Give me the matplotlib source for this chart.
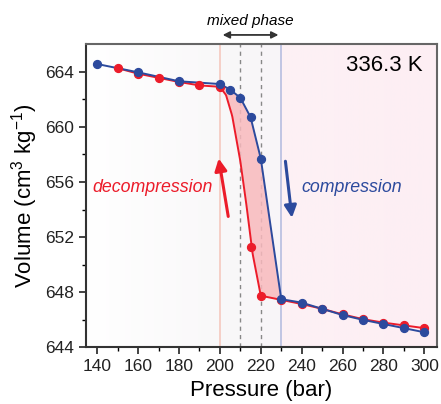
import numpy as np
import matplotlib.pyplot as plt
from matplotlib.colors import LinearSegmentedColormap

plt.rcParams['font.family'] = ['Liberation Sans', 'DejaVu Sans']
plt.rcParams['mathtext.fontset'] = 'custom'
plt.rcParams['mathtext.rm'] = 'Liberation Sans'
plt.rcParams['mathtext.it'] = 'Liberation Sans:italic'

# compression (blue)
p_comp = [140, 160, 180, 200, 205, 210, 215, 220, 230, 240, 250, 260, 270, 280, 290, 300]
v_comp = [664.55, 663.95, 663.3, 663.1, 662.7, 662.1, 660.7, 657.7, 647.5, 647.25,
          646.8, 646.35, 646.0, 645.7, 645.4, 645.1]

# decompression (red)
p_dec = [150, 160, 170, 180, 190, 200, 215, 220, 230, 240, 250, 260, 270, 280, 290, 300]
v_dec = [664.25, 663.85, 663.55, 663.25, 663.0, 662.9, 651.3, 647.75, 647.45, 647.15,
         646.8, 646.4, 646.05, 645.8, 645.6, 645.4]

red = '#ec1c2a'
blue = '#2c4a9d'

fig, ax = plt.subplots(figsize=(4.41, 4.04), dpi=100)
fig.subplots_adjust(left=0.195, right=0.99, bottom=0.14, top=0.891)

xmin, xmax, ymin, ymax = 134.5, 306, 644, 666
ax.set_xlim(xmin, xmax)
ax.set_ylim(ymin, ymax)

# background gradient
cmap = LinearSegmentedColormap.from_list(
    'bg', [(0, '#ffffff'), (0.38, '#f9f8f9'), (0.555, '#f8f5f8'),
           (0.56, '#fdf1f5'), (1, '#fdeef3')])
grad = np.linspace(0, 1, 400).reshape(1, -1)
ax.imshow(grad, extent=[xmin, xmax, ymin, ymax], aspect='auto', cmap=cmap, zorder=0)

# phase boundary lines
ax.axvline(200, color='#f5c9bf', lw=1.2, zorder=1)
ax.axvline(210, color='#888888', lw=1, ls=(0, (3, 3)), zorder=1)
ax.axvline(220, color='#888888', lw=1, ls=(0, (3, 3)), zorder=1)
ax.axvline(230, color='#b7bde0', lw=1.2, zorder=1)

pc = np.array(p_comp, float)
vc = np.array(v_comp, float)
pd_ = np.array(p_dec, float)
vd = np.array(v_dec, float)

# red curve in transition (smooth)
tr_p = np.linspace(200, 220, 60)
tr_v_red = np.interp(tr_p, [200, 203, 206, 210, 213, 216, 220],
                     [662.9, 662.3, 660.8, 657.5, 654.3, 650.8, 647.75])

red_line_p = np.concatenate([pd_[pd_ < 200], tr_p, pd_[pd_ > 220]])
red_line_v = np.concatenate([vd[pd_ < 200], tr_v_red, vd[pd_ > 220]])
ax.plot(red_line_p, red_line_v, color=red, lw=1.4, zorder=3)

ax.plot(pc, vc, color=blue, lw=1.4, zorder=3)

# shaded hysteresis area
fp = np.linspace(200, 230, 200)
fv_red = np.interp(fp, red_line_p, red_line_v)
fv_blue = np.interp(fp, pc, vc)
ax.fill_between(fp, fv_red, fv_blue, color='#f8b9bd', alpha=0.85, lw=0, zorder=2)

ax.scatter(p_dec, v_dec, s=32, color=red, zorder=4)
ax.scatter(p_comp, v_comp, s=32, color=blue, zorder=5)

# arrows and labels
ax.annotate('', xy=(199.2, 657.9), xytext=(204.3, 653.3),
            arrowprops=dict(arrowstyle='-|>', color=red, lw=2.2, mutation_scale=18))
ax.annotate('', xy=(235.4, 653.2), xytext=(231.9, 657.7),
            arrowprops=dict(arrowstyle='-|>', color=blue, lw=2.2, mutation_scale=18))
ax.text(167, 655.6, 'decompression', color=red, style='italic', fontsize=12.8,
        ha='center', va='center')
ax.text(264.5, 655.6, 'compression', color=blue, style='italic', fontsize=12.8,
        ha='center', va='center')
ax.text(0.96, 0.93, '336.3 K', transform=ax.transAxes, fontsize=16,
        ha='right', va='center')

# mixed phase marker above the axes
ax.annotate('', xy=(200, 1.03), xytext=(230, 1.03), xycoords=('data', 'axes fraction'),
            textcoords=('data', 'axes fraction'),
            arrowprops=dict(arrowstyle='<|-|>', color='#333333', lw=1.3, mutation_scale=10),
            annotation_clip=False)
ax.text(215, 1.075, 'mixed phase', transform=ax.get_xaxis_transform(), style='italic',
        fontsize=11, ha='center', va='center')

ax.set_xticks(np.arange(140, 301, 20))
ax.set_xticks(np.arange(140, 306, 10), minor=True)
ax.set_yticks(np.arange(644, 665, 4))
ax.set_yticks(np.arange(644, 666, 2), minor=True)
ax.tick_params(labelsize=12.5, direction='out', length=5, width=1.2, colors='#222222')
ax.tick_params(which='minor', length=3, width=1)

for s in ax.spines.values():
    s.set_linewidth(1.5)
    s.set_color('#333333')
for s in ['top', 'right']:
    ax.spines[s].set_color('#666666')

ax.set_xlabel('Pressure (bar)', fontsize=16)
ax.set_ylabel('Volume (cm$^3$ kg$^{-1}$)', fontsize=16)

fig.savefig('out.png', dpi=100)
